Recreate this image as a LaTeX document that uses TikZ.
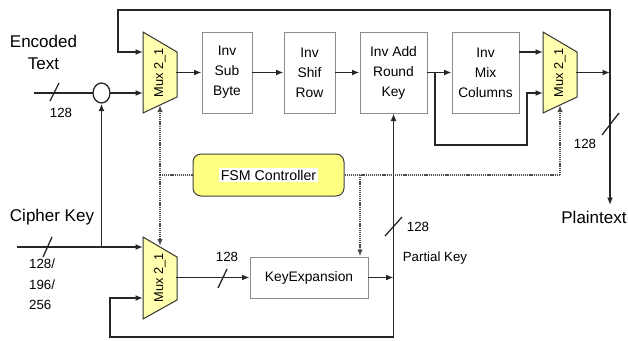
\documentclass[tikz,border=0pt]{standalone}
\usepackage{fontspec}
\setmainfont{Liberation Sans}
\usetikzlibrary{arrows.meta,shapes.geometric}
\definecolor{muxyel}{RGB}{255,255,175}
\definecolor{fsmyel}{RGB}{255,255,130}
\begin{document}
\begin{tikzpicture}[x=1pt,y=-1pt,
  wire/.style={line width=1.6pt, draw=black!85, line cap=rect},
  arr/.style={wire, -{Latex[length=7.5pt,width=6pt]}},
  ctrl/.style={line width=1.4pt, dash pattern=on 1.2pt off 0.9pt, draw=black!70},
  ctrlarr/.style={ctrl, -{Latex[length=7pt,width=5.5pt]}},
  blk/.style={draw=black!45, line width=1pt, fill=white, inner sep=0pt, align=center,
    font=\fontsize{13.8}{20}\selectfont},
  muxs/.style={draw=black!80, line width=1pt, fill=muxyel},
  muxlbl/.style={rotate=90, font=\fontsize{12.8}{14}\selectfont, inner sep=0pt},
  biglbl/.style={font=\fontsize{17}{22}\selectfont, inner sep=0pt},
  smalllbl/.style={font=\fontsize{13.3}{20.5}\selectfont, inner sep=0pt},
  slash/.style={line width=1.3pt, draw=black!85}
]
\useasboundingbox (0,0) rectangle (628,340);

% ---------- blocks ----------
\node[blk, minimum width=50pt, minimum height=81pt] (isb) at (227,72.5) {Inv\\Sub\\Byte};
\node[blk, minimum width=51pt, minimum height=81pt] (isr) at (309.5,72.5) {Inv\\Shif\\Row};
\node[blk, minimum width=67pt, minimum height=81pt] (ark) at (393.5,72.5) {Inv Add\\Round\\Key};
\node[blk, minimum width=67pt, minimum height=81pt] (imc) at (485.5,72.5) {Inv\\Mix\\Columns};
\node[blk, minimum width=118pt, minimum height=41pt] (ke) at (309,277.5) {KeyExpansion};
\node[draw=black!75, line width=1pt, fill=fsmyel, rounded corners=8pt,
      minimum width=151pt, minimum height=42pt, inner sep=0pt] (fsm) at (268.5,175) {};
\node[fill=white, inner sep=1.5pt, font=\fontsize{14.2}{16}\selectfont] (fsml) at (fsm) {FSM Controller};

% ---------- muxes ----------
\draw[muxs] (143,32) -- (177,52) -- (177,97) -- (143,113) -- cycle;
\node[muxlbl] (mux1) at (160,72.5) {Mux 2\_1};
\draw[muxs] (543,32) -- (577,52) -- (577,97) -- (543,113) -- cycle;
\node[muxlbl] (mux3) at (560,72.5) {Mux 2\_1};
\draw[muxs] (143,237) -- (177,257) -- (177,300) -- (143,319) -- cycle;
\node[muxlbl] (mux2) at (160,278) {Mux 2\_1};

% mux ports
\coordinate (m1in1) at (143,52);
\coordinate (m1in2) at (143,93);
\coordinate (m1out) at (177,72.5);
\coordinate (m1b) at (160,105);
\coordinate (m3in1) at (543,52);
\coordinate (m3in2) at (543,93);
\coordinate (m3out) at (577,72.5);
\coordinate (m3b) at (560,105);
\coordinate (m2in1) at (143,247);
\coordinate (m2in2) at (143,298);
\coordinate (m2out) at (177,277.5);
\coordinate (m2t) at (160,246);

% ---------- labels ----------
\node[biglbl, align=center] (enc) at (43.5,52) {Encoded\\Text};
\node[biglbl] (ck) at (52,217) {Cipher Key};
\node[biglbl] (pt) at (594,217) {Plaintext};
\node[smalllbl] (l128a) at (61,113) {128};
\node[smalllbl, align=left, anchor=north west] (lkey) at (29,259) {128/\\196/\\256};
\node[smalllbl] (l128b) at (227,257) {128};
\node[smalllbl] (l128c) at (418,227) {128};
\node[smalllbl] (lpk) at (435,258) {Partial Key};
\node[smalllbl] (l128d) at (585,144) {128};

% ---------- data path ----------
\node[draw=black!85, line width=1.3pt, ellipse, fill=white, minimum width=17pt,
      minimum height=20pt, inner sep=0pt] (xor) at (101.5,93) {};
\coordinate (ein) at (35,93);
\draw[wire] (ein) -- (xor.west);
\draw[arr] (xor.east) -- (m1in2);
\draw[arr] (m1out) -- (isb.west);
\draw[arr] (isb.east) -- (isr.west);
\draw[arr] (isr.east) -- (ark.west);
\draw[arr] (ark.east) -- (imc.west);
\draw[arr] (imc.east |- m3in1) -- (m3in1);
\coordinate (br) at (435,72.5);
\coordinate (c1) at (527,145);
\draw[arr] (br) |- (c1) |- (m3in2);

\coordinate (rv) at (610,10);
\coordinate (tl) at (118,10);
\draw[arr] (m3out) -- (m3out -| rv);
\draw[arr] (rv) -- (rv |- 0,205);
\draw[arr] (rv) -- (tl) |- (m1in1);

% key path
\coordinate (cin) at (18,247);
\coordinate (ckb) at (101.5,247);
\draw[arr] (cin) -- (m2in1);
\draw[arr] (ckb) -- (xor.south);
\draw[arr] (m2out) -- (ke.west);
\coordinate (pkb) at (393.5,337);
\coordinate (bl) at (110,298);
\draw[arr] (pkb) -- (ark.south);
\draw[arr] (ke.east) -- (ke.east -| pkb);
\draw[arr] (pkb) -| (bl) -- (m2in2);

% ---------- control ----------
\coordinate (dl) at (160,175);
\coordinate (dr) at (560,175);
\coordinate (db) at (360,175);
\draw[ctrl] (fsm.west) -- (dl);
\draw[ctrlarr] (dl) -- (m1b);
\draw[ctrlarr] (dl) -- (m2t);
\draw[ctrl] (fsm.east) -- (dr);
\draw[ctrlarr] (dr) -- (m3b);
\draw[ctrlarr] (db) -- (db |- ke.north);

% ---------- bus slashes ----------
\draw[slash] (50,101) -- (59,83);
\draw[slash] (43,257) -- (52,237);
\draw[slash] (218,288) -- (227,269);
\draw[slash] (385,236) -- (402,217);
\draw[slash] (602,135) -- (619,113);
\end{tikzpicture}
\end{document}
